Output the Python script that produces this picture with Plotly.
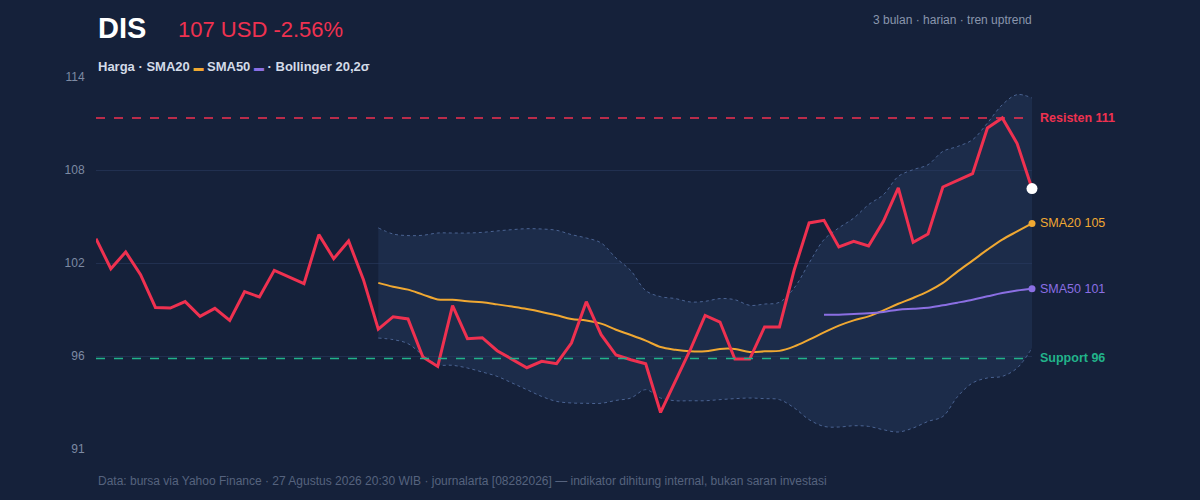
import plotly.graph_objects as go

# harga penutupan harian DIS, 64 hari bursa
price = [103.72, 101.84, 102.89, 101.47, 99.43, 99.39, 99.79, 98.87, 99.37, 98.62,
         100.41, 100.08, 101.74, 101.35, 100.91, 103.97, 102.47, 103.57, 101.16, 98.08,
         98.85, 98.71, 96.34, 95.75, 99.54, 97.48, 97.54, 96.73, 96.21, 95.67,
         96.07, 95.92, 97.21, 99.79, 97.73, 96.46, 96.17, 95.92, 92.88, 94.88,
         96.79, 98.93, 98.52, 96.21, 96.21, 98.21, 98.21, 101.78, 104.70, 104.86,
         103.20, 103.55, 103.26, 104.80, 106.88, 103.49, 104.01, 106.94, 107.34, 107.77,
         110.62, 111.25, 109.65, 106.84]

# indikator mulai dari hari ke-20 (SMA20, Bollinger) dan ke-50 (SMA50)
sma20 = [100.96, 100.72, 100.54, 100.23, 99.93, 99.91, 99.81, 99.75, 99.62, 99.48,
         99.33, 99.15, 98.94, 98.71, 98.62, 98.42, 98.04, 97.71, 97.36, 96.96,
         96.79, 96.69, 96.69, 96.84, 96.84, 96.65, 96.69, 96.72, 97.00, 97.42,
         97.87, 98.29, 98.62, 98.87, 99.25, 99.66, 100.02, 100.43, 100.96, 101.68,
         102.35, 103.03, 103.66, 104.17, 104.67]
sma50 = [98.98, 98.98, 99.02, 99.06, 99.15, 99.29, 99.35, 99.41, 99.56, 99.73,
         99.91, 100.12, 100.33, 100.49, 100.60]
bb_upper = [104.39, 104.01, 103.91, 103.93, 104.07, 104.07, 104.07, 104.11, 104.20, 104.28,
            104.34, 104.32, 104.24, 103.97, 103.76, 103.45, 102.51, 101.72, 100.48, 100.10,
            99.98, 99.77, 99.81, 99.98, 99.91, 99.56, 99.64, 99.75, 100.65, 102.20,
            103.66, 104.39, 105.00, 105.84, 106.46, 107.60, 108.02, 108.33, 109.16, 109.47,
            109.89, 110.93, 112.07, 112.70, 112.49]
bb_lower = [97.52, 97.42, 97.17, 96.45, 95.86, 95.82, 95.65, 95.40, 95.13, 94.72,
            94.30, 93.88, 93.57, 93.47, 93.45, 93.45, 93.63, 93.78, 94.30, 93.78,
            93.61, 93.61, 93.61, 93.68, 93.74, 93.78, 93.74, 93.68, 93.16, 92.43,
            92.01, 91.97, 92.05, 92.01, 91.80, 91.66, 91.91, 92.32, 92.63, 93.88,
            94.72, 95.03, 95.13, 95.65, 96.90]

resistance = 111.25
support = 96.25

y_range = [90.6, 113.8]
y_ticks = [90.6, 96.4, 102.2, 108.0, 113.8]
y_tick_labels = ["91", "96", "102", "108", "114"]

BG = "#15213a"
RED = "#ef3150"
ORANGE = "#f0a832"
PURPLE = "#8b6fe3"
GREEN = "#22b38a"
FONT = "Liberation Sans, Arial, sans-serif"

days = list(range(len(price)))
d20 = days[len(price) - len(sma20):]
d50 = days[len(price) - len(sma50):]

fig = go.Figure()

# pita Bollinger
fig.add_trace(go.Scatter(x=d20, y=bb_lower, mode="lines", line=dict(color="#4a6392", width=1, dash="dot", shape="spline"),
                         hoverinfo="skip", showlegend=False))
fig.add_trace(go.Scatter(x=d20, y=bb_upper, mode="lines", line=dict(color="#4a6392", width=1, dash="dot", shape="spline"),
                         fill="tonexty", fillcolor="rgba(38,58,96,0.45)", hoverinfo="skip", showlegend=False))

fig.add_hline(y=resistance, line=dict(color=RED, width=1.5, dash="dash"))
fig.add_hline(y=support, line=dict(color=GREEN, width=1.5, dash="dash"))

fig.add_trace(go.Scatter(x=d20, y=sma20, mode="lines", line=dict(color=ORANGE, width=2, shape="spline"),
                         name="SMA20", showlegend=False))
fig.add_trace(go.Scatter(x=d50, y=sma50, mode="lines", line=dict(color=PURPLE, width=2, shape="spline"),
                         name="SMA50", showlegend=False))
fig.add_trace(go.Scatter(x=days, y=price, mode="lines", line=dict(color=RED, width=3),
                         name="Harga", showlegend=False))

# titik akhir
fig.add_trace(go.Scatter(x=[d20[-1]], y=[sma20[-1]], mode="markers", marker=dict(color=ORANGE, size=7),
                         cliponaxis=False, showlegend=False))
fig.add_trace(go.Scatter(x=[d50[-1]], y=[sma50[-1]], mode="markers", marker=dict(color=PURPLE, size=7),
                         cliponaxis=False, showlegend=False))
fig.add_trace(go.Scatter(x=[days[-1]], y=[price[-1]], mode="markers", marker=dict(color="white", size=11),
                         cliponaxis=False, showlegend=False))

last = days[-1]
right_labels = [
    (resistance, f"<b>Resisten {resistance:.0f}</b>", RED),
    (sma20[-1], f"SMA20 {sma20[-1]:.0f}", ORANGE),
    (sma50[-1], f"SMA50 {sma50[-1]:.0f}", PURPLE),
    (support, f"<b>Support {support:.0f}</b>", GREEN),
]
for yv, txt, col in right_labels:
    fig.add_annotation(x=last, y=yv, xref="x", yref="y", text=txt, showarrow=False,
                       xanchor="left", xshift=6, font=dict(color=col, size=12.5, family=FONT))

chg = (price[-1] / price[-2] - 1) * 100
fig.add_annotation(x=0, y=1.133, xref="paper", yref="paper", text="<b>DIS</b>", showarrow=False,
                   xanchor="left", yanchor="middle", font=dict(color="white", size=29, family=FONT))
fig.add_annotation(x=0.0855, y=1.128, xref="paper", yref="paper", text=f"{price[-1]:.0f} USD {chg:.2f}%",
                   showarrow=False, xanchor="left", yanchor="middle", font=dict(color=RED, size=22, family=FONT))
fig.add_annotation(x=1, y=1.152, xref="paper", yref="paper", text="3 bulan · harian · tren uptrend",
                   showarrow=False, xanchor="right", yanchor="middle", xshift=2,
                   font=dict(color="#8a96ad", size=12, family=FONT))
fig.add_annotation(x=0, y=1.028, xref="paper", yref="paper",
                   text=f"<b>Harga · SMA20 <span style='color:{ORANGE};font-size:10px'>▬</span> SMA50 "
                        f"<span style='color:{PURPLE};font-size:10px'>▬</span> · Bollinger 20,2σ</b>",
                   showarrow=False, xanchor="left", yanchor="middle", font=dict(color="#d3dbe8", size=13, family=FONT))
fig.add_annotation(x=0, y=-0.087, xref="paper", yref="paper",
                   text="Data: bursa via Yahoo Finance · 27 Agustus 2026 20:30 WIB · journalarta [08282026] — "
                        "indikator dihitung internal, bukan saran investasi",
                   showarrow=False, xanchor="left", yanchor="middle", font=dict(color="#56637e", size=12, family=FONT))

fig.update_layout(
    width=1200, height=500,
    paper_bgcolor=BG, plot_bgcolor=BG,
    margin=dict(l=96, r=168, t=77, b=51),
    font=dict(family=FONT, color="#7d8aa3"),
    hovermode=False,
    xaxis=dict(range=[0, last], showgrid=False, zeroline=False, showticklabels=False, showline=False),
    yaxis=dict(range=y_range, tickvals=y_ticks, ticktext=y_tick_labels, showgrid=True, gridcolor="#213050",
               gridwidth=1, zeroline=False, showline=False, ticks="outside", ticklen=8, tickcolor=BG,
               tickfont=dict(color="#7d8aa3", size=12, family=FONT)),
)

fig.write_html("out.html", config={"displayModeBar": False},
               post_script="document.body.style.margin='0';document.body.style.background='" + BG + "';")
